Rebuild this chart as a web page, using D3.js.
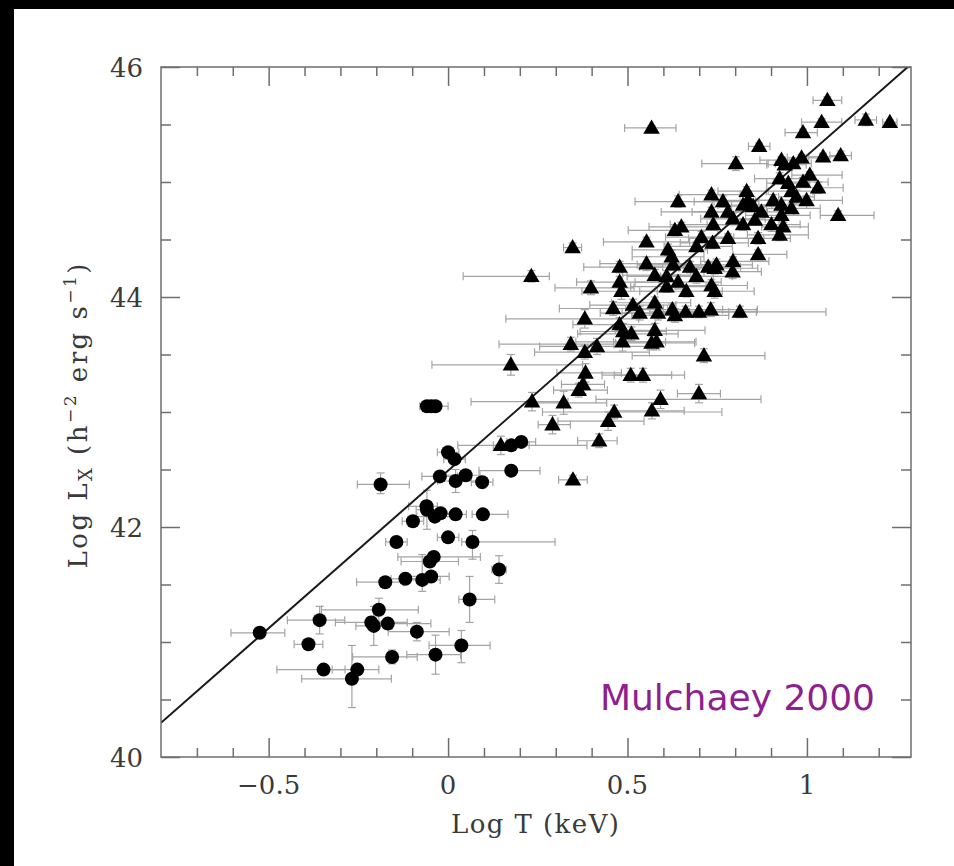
<!DOCTYPE html>
<html>
<head>
<meta charset="utf-8">
<script src="https://cdn.jsdelivr.net/npm/d3@7/dist/d3.min.js"></script>
<style>
  body { margin: 0; background: #fff; }
  svg { display: block; }
</style>
</head>
<body>
<svg id="chart" width="954" height="866"></svg>
<script>
// Axis ranges and ticks
const xDomain = [-0.8, 1.29];
const yDomain = [40, 46];
const xMajorTicks = [-0.5, 0, 0.5, 1];
const xMinorTicks = [-0.7, -0.6, -0.4, -0.3, -0.2, -0.1, 0.1, 0.2, 0.3, 0.4, 0.6, 0.7, 0.8, 0.9, 1.1, 1.2];
const xTickLabels = ["\u22120.5", "0", "0.5", "1"];
const yMajorTicks = [40, 42, 44, 46];
const yMinorTicks = [40.5, 41, 41.5, 42.5, 43, 43.5, 44.5, 45, 45.5];
const yTickLabels = ["40", "42", "44", "46"];

// Reference L-T relation: log L = a + b log T
const relationT = [-0.8, 1.29];
const relationIntercept = 42.49;
const relationSlope = 2.74;

// Groups (filled circles): [logT, logL, dT-, dT+, dL-, dL+]
const groupPoints = [
  [-0.059, 43.05, 0.02, 0.02, 0.02, 0.02],
  [-0.047, 43.05, 0.02, 0.02, 0.02, 0.02],
  [-0.035, 43.05, 0.02, 0.035, 0.02, 0.02],
  [0.176, 42.71, 0.05, 0.05, 0.03, 0.03],
  [0.204, 42.74, 0.04, 0.04, 0.03, 0.03],
  [0.000, 42.65, 0.03, 0.03, 0.03, 0.03],
  [0.018, 42.59, 0.03, 0.03, 0.03, 0.03],
  [-0.023, 42.44, 0.05, 0.05, 0.04, 0.04],
  [0.021, 42.40, 0.05, 0.06, 0.1, 0.1],
  [0.049, 42.45, 0.07, 0.04, 0.03, 0.03],
  [0.095, 42.39, 0.03, 0.03, 0.05, 0.05],
  [0.176, 42.49, 0.09, 0.08, 0.03, 0.03],
  [-0.188, 42.37, 0.065, 0.08, 0.08, 0.1],
  [-0.060, 42.18, 0.05, 0.03, 0.05, 0.05],
  [-0.059, 42.15, 0.03, 0.03, 0.17, 0.17],
  [-0.037, 42.09, 0.05, 0.05, 0.03, 0.03],
  [-0.021, 42.12, 0.03, 0.03, 0.03, 0.03],
  [0.021, 42.11, 0.04, 0.03, 0.03, 0.03],
  [0.097, 42.11, 0.03, 0.07, 0.03, 0.03],
  [-0.098, 42.05, 0.03, 0.03, 0.03, 0.03],
  [-0.144, 41.87, 0.03, 0.03, 0.03, 0.03],
  [0.000, 41.91, 0.03, 0.03, 0.03, 0.03],
  [0.068, 41.87, 0.03, 0.23, 0.15, 0.1],
  [-0.040, 41.74, 0.1, 0.13, 0.04, 0.04],
  [-0.051, 41.70, 0.08, 0.08, 0.03, 0.03],
  [0.142, 41.63, 0.02, 0.02, 0.12, 0.12],
  [-0.175, 41.52, 0.08, 0.05, 0.03, 0.03],
  [-0.119, 41.55, 0.04, 0.04, 0.03, 0.03],
  [-0.072, 41.54, 0.05, 0.05, 0.1, 0.22],
  [-0.047, 41.57, 0.08, 0.05, 0.03, 0.03],
  [0.060, 41.37, 0.03, 0.07, 0.2, 0.2],
  [-0.193, 41.28, 0.16, 0.11, 0.1, 0.1],
  [-0.358, 41.19, 0.09, 0.07, 0.12, 0.12],
  [-0.214, 41.17, 0.1, 0.1, 0.05, 0.05],
  [-0.207, 41.14, 0.05, 0.05, 0.17, 0.17],
  [-0.168, 41.16, 0.05, 0.12, 0.03, 0.03],
  [-0.525, 41.08, 0.08, 0.07, 0.04, 0.04],
  [-0.087, 41.09, 0.08, 0.09, 0.08, 0.08],
  [-0.389, 40.98, 0.04, 0.04, 0.04, 0.04],
  [0.037, 40.97, 0.09, 0.08, 0.15, 0.13],
  [-0.035, 40.89, 0.08, 0.07, 0.17, 0.17],
  [-0.156, 40.87, 0.11, 0.07, 0.06, 0.06],
  [-0.347, 40.76, 0.13, 0.06, 0.03, 0.03],
  [-0.253, 40.76, 0.07, 0.06, 0.03, 0.03],
  [-0.268, 40.68, 0.14, 0.11, 0.25, 0.29]
];

// Clusters (filled triangles): [logT, logL, dT-, dT+, dL-, dL+]
const clusterPoints = [
  [1.057, 45.71, 0.04, 0.04, 0.03, 0.03],
  [1.041, 45.52, 0.056, 0.056, 0.03, 0.03],
  [0.989, 45.43, 0.05, 0.04, 0.03, 0.03],
  [1.164, 45.54, 0.03, 0.03, 0.05, 0.05],
  [1.231, 45.52, 0.02, 0.02, 0.02, 0.02],
  [0.567, 45.47, 0.075, 0.068, 0.02, 0.02],
  [0.867, 45.31, 0.03, 0.03, 0.03, 0.03],
  [0.802, 45.16, 0.095, 0.09, 0.06, 0.06],
  [0.929, 45.19, 0.06, 0.05, 0.03, 0.03],
  [0.938, 45.15, 0.05, 0.06, 0.04, 0.04],
  [0.962, 45.16, 0.05, 0.05, 0.03, 0.03],
  [0.985, 45.21, 0.04, 0.05, 0.03, 0.03],
  [1.045, 45.22, 0.04, 0.04, 0.03, 0.03],
  [1.094, 45.23, 0.03, 0.03, 0.04, 0.04],
  [0.924, 45.03, 0.07, 0.08, 0.05, 0.05],
  [0.948, 44.99, 0.06, 0.06, 0.04, 0.04],
  [0.989, 45.00, 0.08, 0.07, 0.04, 0.04],
  [1.008, 45.06, 0.05, 0.09, 0.03, 0.03],
  [1.031, 44.95, 0.06, 0.07, 0.05, 0.05],
  [0.957, 44.92, 0.07, 0.06, 0.04, 0.04],
  [0.971, 44.87, 0.05, 0.05, 0.06, 0.06],
  [0.999, 44.84, 0.07, 0.1, 0.04, 0.04],
  [0.641, 44.83, 0.12, 0.1, 0.05, 0.05],
  [0.734, 44.89, 0.09, 0.08, 0.04, 0.04],
  [0.766, 44.83, 0.08, 0.1, 0.05, 0.05],
  [0.832, 44.92, 0.08, 0.06, 0.04, 0.04],
  [0.836, 44.84, 0.1, 0.09, 0.05, 0.05],
  [0.734, 44.74, 0.14, 0.12, 0.04, 0.04],
  [0.780, 44.74, 0.1, 0.11, 0.05, 0.05],
  [0.822, 44.80, 0.07, 0.08, 0.04, 0.04],
  [0.850, 44.79, 0.06, 0.07, 0.04, 0.04],
  [0.906, 44.84, 0.05, 0.06, 0.05, 0.05],
  [0.929, 44.80, 0.08, 0.07, 0.04, 0.04],
  [0.873, 44.74, 0.09, 0.09, 0.04, 0.04],
  [0.929, 44.71, 0.1, 0.08, 0.05, 0.05],
  [0.957, 44.77, 0.07, 0.08, 0.04, 0.04],
  [1.087, 44.71, 0.05, 0.1, 0.04, 0.04],
  [0.739, 44.63, 0.12, 0.1, 0.05, 0.05],
  [0.632, 44.58, 0.13, 0.12, 0.05, 0.05],
  [0.650, 44.61, 0.09, 0.08, 0.04, 0.04],
  [0.794, 44.68, 0.09, 0.09, 0.05, 0.05],
  [0.822, 44.63, 0.1, 0.1, 0.05, 0.05],
  [0.855, 44.67, 0.07, 0.08, 0.04, 0.04],
  [0.901, 44.63, 0.08, 0.08, 0.06, 0.06],
  [0.934, 44.61, 0.06, 0.07, 0.04, 0.04],
  [0.924, 44.54, 0.09, 0.08, 0.05, 0.05],
  [0.706, 44.52, 0.1, 0.09, 0.05, 0.05],
  [0.780, 44.51, 0.11, 0.1, 0.04, 0.04],
  [0.864, 44.51, 0.08, 0.09, 0.05, 0.05],
  [0.553, 44.48, 0.12, 0.12, 0.04, 0.04],
  [0.613, 44.41, 0.1, 0.11, 0.05, 0.05],
  [0.692, 44.44, 0.09, 0.1, 0.04, 0.04],
  [0.623, 44.35, 0.11, 0.09, 0.06, 0.06],
  [0.674, 44.26, 0.14, 0.12, 0.05, 0.05],
  [0.627, 44.28, 0.1, 0.1, 0.05, 0.05],
  [0.748, 44.28, 0.12, 0.1, 0.05, 0.05],
  [0.794, 44.31, 0.09, 0.1, 0.04, 0.04],
  [0.793, 44.22, 0.08, 0.08, 0.06, 0.06],
  [0.864, 44.37, 0.07, 0.08, 0.04, 0.04],
  [0.478, 44.26, 0.1, 0.12, 0.05, 0.05],
  [0.553, 44.29, 0.13, 0.11, 0.06, 0.06],
  [0.576, 44.19, 0.09, 0.1, 0.05, 0.05],
  [0.609, 44.18, 0.11, 0.13, 0.05, 0.05],
  [0.692, 44.18, 0.1, 0.1, 0.06, 0.06],
  [0.725, 44.26, 0.09, 0.09, 0.04, 0.04],
  [0.743, 44.25, 0.1, 0.12, 0.05, 0.05],
  [0.478, 44.13, 0.12, 0.11, 0.05, 0.05],
  [0.483, 44.05, 0.11, 0.1, 0.07, 0.07],
  [0.609, 44.09, 0.1, 0.11, 0.05, 0.05],
  [0.641, 44.13, 0.12, 0.12, 0.06, 0.06],
  [0.664, 44.05, 0.13, 0.1, 0.05, 0.05],
  [0.743, 44.05, 0.09, 0.11, 0.06, 0.06],
  [0.734, 44.10, 0.1, 0.1, 0.05, 0.05],
  [0.460, 43.90, 0.15, 0.14, 0.06, 0.06],
  [0.515, 43.93, 0.12, 0.12, 0.05, 0.05],
  [0.534, 43.86, 0.11, 0.13, 0.06, 0.06],
  [0.576, 43.95, 0.12, 0.1, 0.05, 0.05],
  [0.585, 43.86, 0.1, 0.12, 0.06, 0.06],
  [0.625, 43.89, 0.13, 0.14, 0.05, 0.05],
  [0.632, 43.84, 0.12, 0.15, 0.06, 0.06],
  [0.662, 43.87, 0.1, 0.12, 0.05, 0.05],
  [0.699, 43.87, 0.11, 0.16, 0.05, 0.05],
  [0.732, 43.89, 0.12, 0.13, 0.06, 0.06],
  [0.813, 43.87, 0.14, 0.24, 0.05, 0.05],
  [0.478, 43.76, 0.13, 0.1, 0.06, 0.06],
  [0.488, 43.70, 0.12, 0.12, 0.07, 0.07],
  [0.511, 43.68, 0.15, 0.13, 0.06, 0.06],
  [0.576, 43.71, 0.11, 0.14, 0.06, 0.06],
  [0.581, 43.61, 0.12, 0.11, 0.07, 0.07],
  [0.567, 43.60, 0.1, 0.12, 0.06, 0.06],
  [0.486, 43.61, 0.13, 0.12, 0.08, 0.08],
  [0.737, 44.47, 0.09, 0.1, 0.05, 0.05],
  [0.232, 44.18, 0.19, 0.05, 0.05, 0.05],
  [0.398, 44.08, 0.1, 0.12, 0.06, 0.06],
  [0.381, 43.81, 0.22, 0.15, 0.08, 0.08],
  [0.342, 43.59, 0.2, 0.12, 0.06, 0.06],
  [0.415, 43.57, 0.16, 0.14, 0.07, 0.07],
  [0.381, 43.52, 0.14, 0.18, 0.06, 0.06],
  [0.175, 43.41, 0.22, 0.2, 0.09, 0.09],
  [0.383, 43.34, 0.08, 0.1, 0.08, 0.08],
  [0.376, 43.24, 0.06, 0.06, 0.08, 0.08],
  [0.364, 43.19, 0.07, 0.08, 0.06, 0.06],
  [0.509, 43.32, 0.08, 0.15, 0.06, 0.06],
  [0.543, 43.32, 0.08, 0.08, 0.06, 0.06],
  [0.234, 43.09, 0.17, 0.1, 0.08, 0.08],
  [0.322, 43.08, 0.09, 0.12, 0.1, 0.1],
  [0.592, 43.11, 0.18, 0.28, 0.08, 0.08],
  [0.699, 43.16, 0.06, 0.06, 0.08, 0.08],
  [0.463, 43.00, 0.2, 0.3, 0.06, 0.06],
  [0.568, 43.01, 0.1, 0.09, 0.07, 0.07],
  [0.446, 42.92, 0.14, 0.1, 0.08, 0.08],
  [0.291, 42.89, 0.04, 0.05, 0.08, 0.08],
  [0.421, 42.75, 0.06, 0.05, 0.06, 0.06],
  [0.147, 42.71, 0.12, 0.24, 0.08, 0.08],
  [0.348, 42.41, 0.04, 0.04, 0.04, 0.04],
  [0.713, 43.49, 0.2, 0.17, 0.06, 0.06],
  [0.347, 44.43, 0.025, 0.025, 0.04, 0.04]
];

const svg = d3.select("#chart");
const W = 954, H = 866;
const plot = { left: 161, right: 911, top: 67, bottom: 757 };

svg.append("rect").attr("width", W).attr("height", H).attr("fill", "#fff");
// dark strips along the left and top edges of the page
svg.append("rect").attr("x", 0).attr("y", 0).attr("width", 14).attr("height", H).attr("fill", "#000");
svg.append("rect").attr("x", 0).attr("y", 0).attr("width", W).attr("height", 9).attr("fill", "#000");

const x = d3.scaleLinear().domain(xDomain).range([plot.left, plot.right]);
const y = d3.scaleLinear().domain(yDomain).range([plot.bottom, plot.top]);

svg.append("clipPath").attr("id", "plotClip")
  .append("rect")
  .attr("x", plot.left).attr("y", plot.top)
  .attr("width", plot.right - plot.left).attr("height", plot.bottom - plot.top);

const frameColor = "#6e6e6e";

// Tick marks pointing inward on all four sides
function tickAxis(axisFn, scale, values, size, transform) {
  const g = svg.append("g").attr("transform", transform)
    .call(axisFn(scale).tickValues(values).tickSize(size).tickSizeOuter(0).tickFormat(""));
  g.select(".domain").remove();
  g.selectAll(".tick line").attr("stroke", frameColor).attr("stroke-width", 1.5);
  return g;
}
tickAxis(d3.axisBottom, x, xMinorTicks, -9, `translate(0,${plot.bottom})`);
tickAxis(d3.axisBottom, x, xMajorTicks, -19, `translate(0,${plot.bottom})`);
tickAxis(d3.axisTop, x, xMinorTicks, -9, `translate(0,${plot.top})`);
tickAxis(d3.axisTop, x, xMajorTicks, -19, `translate(0,${plot.top})`);
tickAxis(d3.axisLeft, y, yMinorTicks, -10, `translate(${plot.left},0)`);
tickAxis(d3.axisLeft, y, yMajorTicks, -19, `translate(${plot.left},0)`);
tickAxis(d3.axisRight, y, yMinorTicks, -10, `translate(${plot.right},0)`);
tickAxis(d3.axisRight, y, yMajorTicks, -19, `translate(${plot.right},0)`);

// Error bars
const errColor = "#a4a4a4";
const cap = 4;
const allPoints = groupPoints.concat(clusterPoints);
const eb = svg.append("g").attr("clip-path", "url(#plotClip)")
  .attr("stroke", errColor).attr("stroke-width", 1.2).attr("fill", "none");
allPoints.forEach(p => {
  const [t, l, tLo, tHi, lLo, lHi] = p;
  const cx = x(t), cy = y(l);
  const x0 = x(t - tLo), x1 = x(t + tHi);
  const y0 = y(l - lLo), y1 = y(l + lHi);
  eb.append("line").attr("x1", x0).attr("x2", x1).attr("y1", cy).attr("y2", cy);
  eb.append("line").attr("x1", x0).attr("x2", x0).attr("y1", cy - cap).attr("y2", cy + cap);
  eb.append("line").attr("x1", x1).attr("x2", x1).attr("y1", cy - cap).attr("y2", cy + cap);
  eb.append("line").attr("x1", cx).attr("x2", cx).attr("y1", y0).attr("y2", y1);
  eb.append("line").attr("x1", cx - cap).attr("x2", cx + cap).attr("y1", y0).attr("y2", y0);
  eb.append("line").attr("x1", cx - cap).attr("x2", cx + cap).attr("y1", y1).attr("y2", y1);
});

// Relation line
const relation = relationT.map(t => [t, relationIntercept + relationSlope * t]);
svg.append("path")
  .attr("clip-path", "url(#plotClip)")
  .attr("d", d3.line().x(d => x(d[0])).y(d => y(d[1]))(relation))
  .attr("stroke", "#1a1a1a").attr("stroke-width", 2).attr("fill", "none");

// Markers
const markers = svg.append("g").attr("fill", "#000");
markers.selectAll("circle.group").data(groupPoints).join("circle")
  .attr("class", "group")
  .attr("cx", d => x(d[0])).attr("cy", d => y(d[1])).attr("r", 7);
const tri = d3.symbol().type(d3.symbolTriangle).size(118);
markers.selectAll("path.cluster").data(clusterPoints).join("path")
  .attr("class", "cluster")
  .attr("transform", d => `translate(${x(d[0])},${y(d[1]) + 1})`)
  .attr("d", tri);

// Frame
svg.append("rect")
  .attr("x", plot.left).attr("y", plot.top)
  .attr("width", plot.right - plot.left).attr("height", plot.bottom - plot.top)
  .attr("fill", "none").attr("stroke", frameColor).attr("stroke-width", 1.5);

// Tick labels
const labelFont = "'DejaVu Serif', serif";
const textColor = "#3a3a3a";
svg.append("g").selectAll("text").data(xMajorTicks).join("text")
  .attr("x", d => x(d)).attr("y", 794)
  .attr("text-anchor", "middle")
  .attr("font-family", labelFont).attr("font-size", 26).attr("fill", textColor)
  .text((d, i) => xTickLabels[i]);
svg.append("g").selectAll("text").data(yMajorTicks).join("text")
  .attr("x", 143).attr("y", d => y(d) + 9.5)
  .attr("text-anchor", "end")
  .attr("font-family", labelFont).attr("font-size", 26).attr("fill", textColor)
  .text((d, i) => yTickLabels[i]);

// Axis titles
svg.append("text")
  .attr("x", 535).attr("y", 833)
  .attr("text-anchor", "middle")
  .attr("font-family", labelFont).attr("font-size", 26).attr("fill", textColor)
  .attr("textLength", 168).attr("lengthAdjust", "spacing")
  .text("Log T (keV)");

const yTitle = svg.append("text")
  .attr("transform", "translate(87,416) rotate(-90)")
  .attr("text-anchor", "middle")
  .attr("font-family", labelFont).attr("font-size", 26).attr("fill", textColor)
  .attr("textLength", 305).attr("lengthAdjust", "spacing");
yTitle.append("tspan").text("Log L");
yTitle.append("tspan").attr("font-size", 18).attr("dy", 5).text("X");
yTitle.append("tspan").attr("dy", -5).text(" (h");
yTitle.append("tspan").attr("font-size", 17).attr("dy", -11).text("\u22122");
yTitle.append("tspan").attr("dy", 11).text(" erg s");
yTitle.append("tspan").attr("font-size", 17).attr("dy", -11).text("\u22121");
yTitle.append("tspan").attr("dy", 11).text(")");

// Source note
svg.append("text")
  .attr("x", 875).attr("y", 710)
  .attr("text-anchor", "end")
  .attr("font-family", "'DejaVu Sans', Verdana, sans-serif")
  .attr("font-size", 36).attr("fill", "#8e1f8e")
  .text("Mulchaey 2000");
</script>
</body>
</html>
